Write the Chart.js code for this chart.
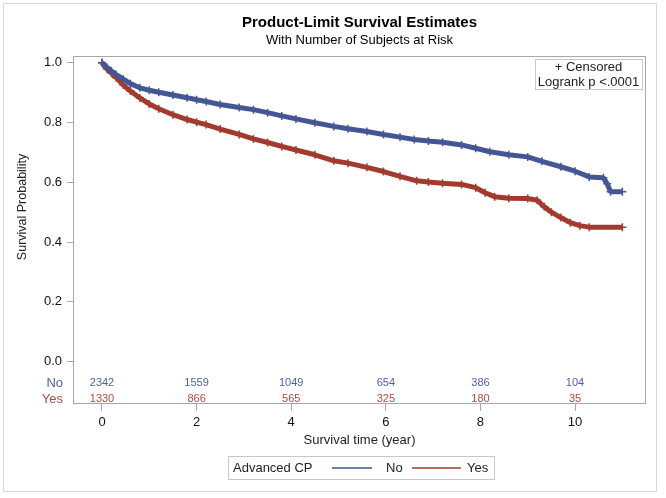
<!DOCTYPE html>
<html>
<head>
<meta charset="utf-8">
<script src="https://cdn.jsdelivr.net/npm/chart.js@4.4.0/dist/chart.umd.min.js"></script>
<style>
  html, body { margin: 0; padding: 0; background: #fff; }
</style>
</head>
<body>
<canvas id="km" width="666" height="498"></canvas>
<script>
// Kaplan-Meier readings (years, survival probability)
const timeNo = [0, 0.1, 0.2, 0.3, 0.45, 0.6, 0.8, 1.0, 1.2, 1.5, 1.8, 2.0, 2.2, 2.5, 2.9, 3.2, 3.5, 3.8, 4.1, 4.5, 4.9, 5.2, 5.6, 5.95, 6.3, 6.6, 6.9, 7.2, 7.6, 7.9, 8.2, 8.6, 9.0, 9.3, 9.7, 10.0, 10.3, 10.6, 10.68, 10.75, 11.0];
const survNo = [1.0, 0.985, 0.972, 0.96, 0.945, 0.93, 0.916, 0.908, 0.901, 0.892, 0.883, 0.876, 0.870, 0.860, 0.850, 0.843, 0.833, 0.822, 0.812, 0.799, 0.787, 0.779, 0.770, 0.760, 0.751, 0.743, 0.738, 0.734, 0.725, 0.714, 0.702, 0.692, 0.685, 0.670, 0.652, 0.637, 0.618, 0.615, 0.595, 0.568, 0.568];

const timeYes = [0, 0.1, 0.2, 0.3, 0.45, 0.6, 0.8, 1.0, 1.2, 1.5, 1.8, 2.0, 2.2, 2.5, 2.9, 3.2, 3.5, 3.8, 4.1, 4.5, 4.9, 5.2, 5.6, 5.95, 6.3, 6.65, 6.9, 7.2, 7.6, 7.9, 8.1, 8.3, 8.6, 9.0, 9.2, 9.35, 9.5, 9.7, 9.9, 10.1, 10.3, 11.0];
const survYes = [1.0, 0.98, 0.965, 0.95, 0.925, 0.905, 0.882, 0.862, 0.846, 0.826, 0.810, 0.801, 0.793, 0.778, 0.760, 0.745, 0.733, 0.720, 0.708, 0.692, 0.672, 0.664, 0.650, 0.636, 0.620, 0.605, 0.601, 0.597, 0.593, 0.582, 0.565, 0.552, 0.547, 0.546, 0.540, 0.518, 0.500, 0.482, 0.465, 0.455, 0.450, 0.450];

// number at risk table
const groups = ["No", "Yes"];
const riskTimes = [0, 2, 4, 6, 8, 10];
const riskNo = [2342, 1559, 1049, 654, 386, 104];
const riskYes = [1330, 866, 565, 325, 180, 35];

const xTicks = [0, 2, 4, 6, 8, 10];
const yTicks = [0, 0.2, 0.4, 0.6, 0.8, 1.0];

const blue = "#445694";
const red = "#a23a2e";
const font = "'Liberation Sans', Arial, sans-serif";

function pts(t, s) {
  return t.map((v, i) => ({ x: v, y: s[i] }));
}

// extra drawing: frame, titles, inset, risk table, legend
const extras = {
  id: "extras",
  afterDraw(chart) {
    const ctx = chart.ctx;
    const a = chart.chartArea;
    const xs = chart.scales.x;
    const cx = (a.left + a.right) / 2;
    ctx.save();

    // outer border
    ctx.strokeStyle = "#d6d6d6";
    ctx.lineWidth = 1;
    ctx.strokeRect(3.5, 3.5, 653, 488);

    // plot frame
    ctx.strokeStyle = "#a8a8a8";
    ctx.strokeRect(a.left + 0.5, a.top + 0.5, a.right - a.left - 1, a.bottom - a.top - 1);

    // titles
    ctx.fillStyle = "#000";
    ctx.textAlign = "center";
    ctx.textBaseline = "middle";
    ctx.font = "bold 15px " + font;
    ctx.fillText("Product-Limit Survival Estimates", cx, 23);
    ctx.font = "13px " + font;
    ctx.fillText("With Number of Subjects at Risk", cx, 40);

    // y axis title
    ctx.save();
    ctx.translate(23, 207);
    ctx.rotate(-Math.PI / 2);
    ctx.fillStyle = "#222";
    ctx.font = "12.5px " + font;
    ctx.fillText("Survival Probability", 0, 0);
    ctx.restore();

    // inset box
    ctx.font = "13px " + font;
    ctx.strokeStyle = "#c8c8c8";
    ctx.strokeRect(535.5, 59.5, 107, 30);
    ctx.fillStyle = "#222";
    ctx.fillText("+ Censored", 588.5, 67);
    ctx.fillText("Logrank p <.0001", 588.5, 82);

    // at risk table
    const rows = [[riskNo, "#4f5fa6", 383], [riskYes, "#b24a3e", 399]];
    rows.forEach((r, k) => {
      ctx.fillStyle = r[1];
      ctx.font = "13px " + font;
      ctx.textAlign = "right";
      ctx.fillText(groups[k], 63, r[2]);
      ctx.font = "11px " + font;
      ctx.textAlign = "center";
      r[0].forEach((n, i) => {
        ctx.fillText(String(n), xs.getPixelForValue(riskTimes[i]), r[2]);
      });
    });

    // bottom legend
    ctx.strokeStyle = "#c8c8c8";
    ctx.strokeRect(228.5, 456.5, 266, 23);
    ctx.fillStyle = "#222";
    ctx.font = "13px " + font;
    ctx.textAlign = "left";
    ctx.fillText("Advanced CP", 233, 468);
    const items = [[blue, 332, 372, 386], [red, 412, 461, 467]];
    items.forEach((it, k) => {
      ctx.strokeStyle = it[0];
      ctx.lineWidth = 1.5;
      ctx.beginPath();
      ctx.moveTo(it[1], 468);
      ctx.lineTo(it[2], 468);
      ctx.stroke();
      ctx.fillStyle = "#222";
      ctx.fillText(groups[k], it[3], 468);
    });

    ctx.restore();
  }
};

new Chart(document.getElementById("km"), {
  type: "line",
  data: {
    datasets: [
      {
        label: groups[0],
        data: pts(timeNo, survNo),
        borderColor: blue,
        backgroundColor: blue,
        borderWidth: 5,
        borderJoinStyle: "bevel",
        pointStyle: "cross",
        pointRadius: 4,
        pointBorderWidth: 1.5,
        pointBorderColor: blue
      },
      {
        label: groups[1],
        data: pts(timeYes, survYes),
        borderColor: red,
        backgroundColor: red,
        borderWidth: 5,
        borderJoinStyle: "bevel",
        pointStyle: "cross",
        pointRadius: 4,
        pointBorderWidth: 1.5,
        pointBorderColor: red
      }
    ]
  },
  options: {
    responsive: false,
    animation: false,
    devicePixelRatio: 1,
    layout: { padding: { top: 56, right: 20, left: 0, bottom: 46 } },
    plugins: {
      legend: { display: false },
      title: { display: false },
      tooltip: { enabled: false }
    },
    scales: {
      x: {
        type: "linear",
        min: -0.613,
        max: 11.5,
        afterFit: (s) => { s.height = 48; },
        afterBuildTicks: (s) => { s.ticks = xTicks.map((v) => ({ value: v })); },
        border: { display: false },
        grid: { drawOnChartArea: false, tickLength: 7, color: "#a8a8a8" },
        ticks: { color: "#111", font: { family: font, size: 13 }, padding: 4 },
        title: { display: true, text: "Survival time (year)", color: "#222", font: { family: font, size: 13 } }
      },
      y: {
        min: -0.1415,
        max: 1.0224,
        afterFit: (s) => { s.width = 73; },
        afterBuildTicks: (s) => { s.ticks = yTicks.map((v) => ({ value: v })); },
        border: { display: false },
        grid: { drawOnChartArea: false, tickLength: 6, color: "#a8a8a8" },
        ticks: { color: "#111", font: { family: font, size: 13 }, padding: 5, callback: (v) => v.toFixed(1) }
      }
    }
  },
  plugins: [extras]
});
</script>
</body>
</html>
